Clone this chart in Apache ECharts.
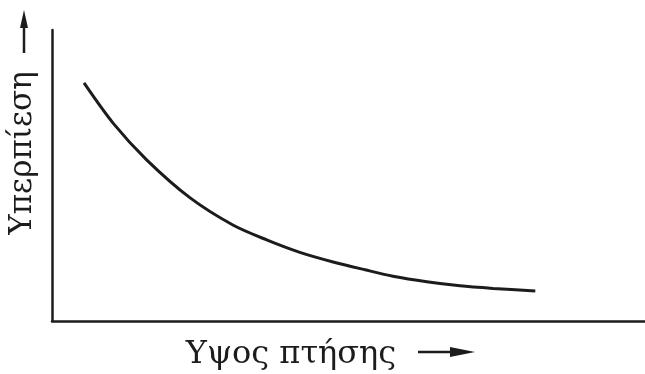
<!DOCTYPE html>
<html>
<head>
<meta charset="utf-8">
<script src="https://cdn.jsdelivr.net/npm/echarts@6/dist/echarts.min.js"></script>
<style>
  html, body { margin: 0; padding: 0; background: #fff; }
  #chart { width: 645px; height: 374px; }
</style>
</head>
<body>
<div id="chart"></div>
<script>
// Overpressure falls off with burst height (qualitative curve, arbitrary units)
const burstHeight = [5.4, 10.3, 16.0, 23.3, 30.5, 36.3, 41.8, 47.4, 52.8, 57.5, 63.2, 68.8, 74.4, 81.5];
const overpressure = [81.8, 68.0, 55.3, 42.3, 33.0, 27.8, 23.6, 20.3, 17.6, 15.4, 13.5, 12.1, 11.2, 10.3];
const xTitle = 'Υψος πτήσης';
const yTitle = 'Υπερπίεση';

const ink = '#1c1c1c';
const font = '"DejaVu Serif", serif';

const chart = echarts.init(document.getElementById('chart'), null, { renderer: 'canvas' });

const points = burstHeight.map((x, i) => [x, overpressure[i]]);

chart.setOption({
  animation: false,
  backgroundColor: '#ffffff',
  grid: { left: 52, right: 0, top: 30, bottom: 53, containLabel: false },
  xAxis: {
    type: 'value', min: 0, max: 100,
    axisLine: { show: true, lineStyle: { color: ink, width: 2.5 } },
    axisTick: { show: false }, axisLabel: { show: false }, splitLine: { show: false }
  },
  yAxis: {
    type: 'value', min: 0, max: 100,
    axisLine: { show: true, lineStyle: { color: ink, width: 2.5 } },
    axisTick: { show: false }, axisLabel: { show: false }, splitLine: { show: false }
  },
  series: [{
    type: 'line',
    data: points,
    smooth: 0.3,
    showSymbol: false,
    lineStyle: { color: ink, width: 3 }
  }],
  graphic: [
    // x-axis title with arrow
    {
      type: 'text', x: 291, y: 355,
      style: { text: xTitle, font: '32px ' + font, fill: ink, align: 'center', verticalAlign: 'middle' }
    },
    {
      type: 'line', shape: { x1: 418, y1: 352, x2: 458, y2: 352 },
      style: { stroke: ink, lineWidth: 2.5 }
    },
    {
      type: 'polygon', shape: { points: [[475, 352], [450, 347], [450, 357]] },
      style: { fill: ink }
    },
    // y-axis title with arrow
    {
      type: 'text', x: 23, y: 153, rotation: Math.PI / 2,
      style: { text: yTitle, font: '31px ' + font, fill: ink, align: 'center', verticalAlign: 'middle' }
    },
    {
      type: 'line', shape: { x1: 24, y1: 53, x2: 24, y2: 24 },
      style: { stroke: ink, lineWidth: 2.5 }
    },
    {
      type: 'polygon', shape: { points: [[24, 10], [20, 28], [28, 28]] },
      style: { fill: ink }
    }
  ]
});
</script>
</body>
</html>
